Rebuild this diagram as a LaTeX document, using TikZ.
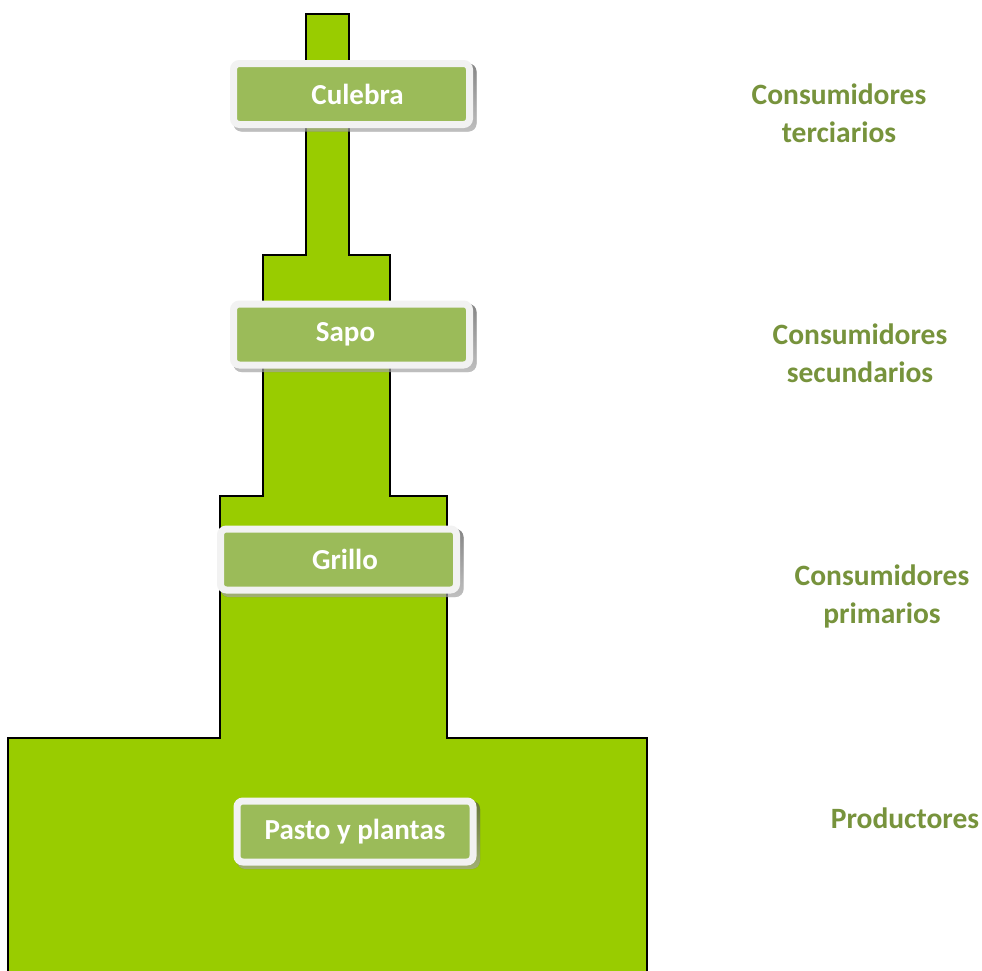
\documentclass[tikz,border=0pt]{standalone}
\usepackage{fontspec}
\setmainfont{Carlito}
\usetikzlibrary{calc}
\definecolor{pyr}{HTML}{99CC00}
\definecolor{boxfill}{HTML}{9BBB59}
\definecolor{boxrim}{HTML}{F2F2F2}
\definecolor{shade}{HTML}{4F6228}
\definecolor{lbl}{HTML}{77933C}
\begin{document}
\begin{tikzpicture}[x=1pt,y=-1pt,
  tag/.style={fill=boxfill,draw=boxrim,line width=7pt,rounded corners=6pt,
    minimum width=236pt,minimum height=61pt,inner sep=0pt,
    text=white,font=\fontsize{29}{32}\selectfont\bfseries},
  level/.style={text=lbl,align=center,font=\fontsize{29.5}{38}\selectfont\bfseries}]
\useasboundingbox (0,0) rectangle (982,970);
\fill[white] (0,0) rectangle (982,970);
\draw[fill=pyr,line width=2.8pt,line join=miter]
  (306,14) -- (349,14) -- (349,255) -- (390,255) -- (390,496) -- (447,496)
  -- (447,738) -- (647,738) -- (647,980) -- (8,980) -- (8,738) -- (220,738)
  -- (220,496) -- (263,496) -- (263,255) -- (306,255) -- cycle;
% shadows
\foreach \cx/\cy in {351.5/93.5, 351.5/334, 338.5/559, 355/831}{
  \fill[shade,opacity=0.45,rounded corners=8pt]
    ($(\cx,\cy)+(-118,-30)$) rectangle ($(\cx,\cy)+(125,38)$);
}
\node[tag] (culebra) at (351.5,94) {\hspace*{12pt}Culebra};
\node[tag] (sapo) at (351.5,334.5) {Sapo\hspace*{12pt}};
\node[tag] (grillo) at (338.5,559.5) {\hspace*{13pt}Grillo};
\node[tag] (pasto) at (355,831.5) {Pasto y plantas};
\node[level] (terc) at (839,113) {Consumidores\\terciarios};
\node[level] (secu) at (860,353) {Consumidores\\secundarios};
\node[level] (prim) at (882,596) {Consumidores\\primarios};
\node[level] (prod) at (905,818) {Productores};
\end{tikzpicture}
\end{document}
